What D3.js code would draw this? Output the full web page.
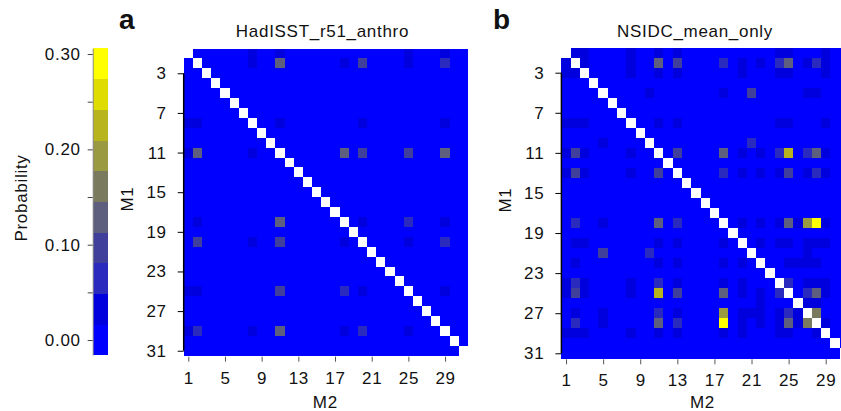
<!DOCTYPE html>
<html>
<head>
<meta charset="utf-8">
<script src="https://cdn.jsdelivr.net/npm/d3@7"></script>
<style>
  body { margin: 0; background: #fff; }
  svg { display: block; font-family: "Liberation Sans", Arial, Helvetica, sans-serif; letter-spacing: 0.7px; }
</style>
</head>
<body>
<div id="chart"></div>
<script>
// model indices (M1 = rows, M2 = columns), diagonal is NA
const modelIds = d3.range(1, 32);
const xTickVals = [1, 5, 9, 13, 17, 21, 25, 29];
const yTickVals = [3, 7, 11, 15, 19, 23, 27, 31];
const probTicks = [0, 0.05, 0.10, 0.15, 0.20, 0.25, 0.30];
const probExtent = [-0.0157, 0.306];
const bandColors = ["#0000ff", "#0000de", "#2a2abe", "#40409c", "#5e5e7e",
                    "#7a7a5e", "#9a9a40", "#b8b41e", "#dedc00", "#ffff00"];

// non-zero cells: [M1, M2, probability], everything else is 0
const hadisstCells = [
  [1, 8, 0.03], [1, 11, 0.03], [1, 25, 0.03], [1, 29, 0.03],
  [2, 8, 0.03], [2, 11, 0.13], [2, 18, 0.03], [2, 20, 0.10], [2, 25, 0.03], [2, 29, 0.06],
  [8, 1, 0.03], [8, 2, 0.03], [8, 11, 0.03], [8, 20, 0.03], [8, 29, 0.03],
  [11, 1, 0.03], [11, 2, 0.13], [11, 8, 0.03], [11, 18, 0.13], [11, 20, 0.10], [11, 25, 0.10], [11, 29, 0.13],
  [18, 2, 0.03], [18, 11, 0.13], [18, 20, 0.03], [18, 25, 0.06], [18, 29, 0.03],
  [20, 2, 0.10], [20, 8, 0.03], [20, 11, 0.10], [20, 18, 0.03], [20, 25, 0.03], [20, 29, 0.06],
  [25, 1, 0.03], [25, 2, 0.03], [25, 11, 0.10], [25, 18, 0.06], [25, 20, 0.03], [25, 29, 0.03],
  [29, 1, 0.03], [29, 2, 0.06], [29, 8, 0.03], [29, 11, 0.13], [29, 18, 0.03], [29, 20, 0.06], [29, 25, 0.03]
];

const nsidcCells = [
  [1, 2, 0.03], [1, 3, 0.03], [1, 8, 0.03], [1, 11, 0.03], [1, 13, 0.03], [1, 24, 0.03], [1, 25, 0.03], [1, 29, 0.03],
  [2, 1, 0.03], [2, 3, 0.03], [2, 8, 0.03], [2, 11, 0.13], [2, 13, 0.10], [2, 18, 0.06], [2, 20, 0.03], [2, 22, 0.03],
  [2, 24, 0.06], [2, 25, 0.13], [2, 27, 0.03], [2, 28, 0.06], [2, 29, 0.03],
  [3, 1, 0.03], [3, 2, 0.03], [3, 8, 0.03], [3, 11, 0.03], [3, 13, 0.03], [3, 20, 0.03], [3, 24, 0.03], [3, 25, 0.03], [3, 29, 0.03],
  [5, 10, 0.03], [5, 18, 0.03], [5, 21, 0.10], [5, 27, 0.03], [5, 28, 0.03],
  [8, 1, 0.03], [8, 2, 0.03], [8, 3, 0.03], [8, 11, 0.03], [8, 13, 0.03], [8, 24, 0.03], [8, 25, 0.03], [8, 29, 0.03],
  [10, 5, 0.03], [10, 21, 0.06],
  [11, 1, 0.03], [11, 2, 0.10], [11, 3, 0.03], [11, 8, 0.03], [11, 13, 0.10], [11, 18, 0.13], [11, 20, 0.03], [11, 22, 0.03],
  [11, 24, 0.06], [11, 25, 0.22], [11, 27, 0.06], [11, 28, 0.13], [11, 29, 0.03],
  [13, 1, 0.03], [13, 2, 0.10], [13, 3, 0.03], [13, 8, 0.03], [13, 11, 0.10], [13, 18, 0.06], [13, 20, 0.03], [13, 22, 0.03],
  [13, 24, 0.03], [13, 25, 0.10], [13, 27, 0.03], [13, 28, 0.06], [13, 29, 0.03],
  [18, 2, 0.06], [18, 5, 0.03], [18, 11, 0.13], [18, 13, 0.06], [18, 20, 0.03], [18, 22, 0.03], [18, 24, 0.03],
  [18, 25, 0.13], [18, 26, 0.03], [18, 27, 0.19], [18, 28, 0.29], [18, 29, 0.03],
  [20, 2, 0.03], [20, 3, 0.03], [20, 11, 0.03], [20, 13, 0.03], [20, 18, 0.03], [20, 22, 0.03], [20, 24, 0.03],
  [20, 25, 0.03], [20, 27, 0.03], [20, 28, 0.03], [20, 29, 0.03],
  [21, 5, 0.10], [21, 10, 0.06], [21, 27, 0.03],
  [22, 2, 0.03], [22, 11, 0.03], [22, 13, 0.03], [22, 18, 0.03], [22, 20, 0.03], [22, 25, 0.03], [22, 26, 0.03],
  [22, 27, 0.03], [22, 28, 0.03],
  [24, 1, 0.03], [24, 2, 0.06], [24, 3, 0.03], [24, 8, 0.03], [24, 11, 0.06], [24, 13, 0.03], [24, 18, 0.03],
  [24, 20, 0.03], [24, 25, 0.06], [24, 27, 0.03], [24, 28, 0.03], [24, 29, 0.03],
  [25, 1, 0.03], [25, 2, 0.10], [25, 3, 0.03], [25, 8, 0.03], [25, 11, 0.22], [25, 13, 0.10], [25, 18, 0.13],
  [25, 20, 0.03], [25, 22, 0.03], [25, 24, 0.06], [25, 27, 0.06], [25, 28, 0.13], [25, 29, 0.03],
  [26, 22, 0.03], [26, 27, 0.03], [26, 28, 0.03],
  [27, 2, 0.03], [27, 5, 0.03], [27, 11, 0.06], [27, 13, 0.03], [27, 18, 0.19], [27, 20, 0.03], [27, 21, 0.03],
  [27, 22, 0.03], [27, 24, 0.03], [27, 25, 0.06], [27, 26, 0.03], [27, 28, 0.16],
  [28, 2, 0.06], [28, 5, 0.03], [28, 11, 0.13], [28, 13, 0.06], [28, 18, 0.29], [28, 20, 0.03], [28, 22, 0.03],
  [28, 24, 0.03], [28, 25, 0.13], [28, 26, 0.03], [28, 27, 0.16], [28, 29, 0.03],
  [29, 1, 0.03], [29, 2, 0.03], [29, 3, 0.03], [29, 8, 0.03], [29, 11, 0.03], [29, 13, 0.03], [29, 18, 0.03],
  [29, 20, 0.03], [29, 24, 0.03], [29, 25, 0.03], [29, 28, 0.03]
];

const width = 841;
const height = 411;

const color = d3.scaleQuantize().domain(probExtent).range(bandColors);

const svg = d3.select("#chart").append("svg")
  .attr("width", width)
  .attr("height", height);

// ---- colour key ----
const keyX = 92.7, keyW = 15.6;
const yKey = d3.scaleLinear().domain(probExtent).range([355, 48.3]);
const step = (probExtent[1] - probExtent[0]) / bandColors.length;
const bands = bandColors.map((c, i) => [probExtent[0] + i * step, probExtent[0] + (i + 1) * step]);

svg.append("g")
  .selectAll("rect")
  .data(bands)
  .join("rect")
  .attr("x", keyX)
  .attr("width", keyW)
  .attr("y", d => yKey(d[1]))
  .attr("height", d => yKey(d[0]) - yKey(d[1]) + 0.3)
  .attr("fill", d => color((d[0] + d[1]) / 2))
  .attr("shape-rendering", "crispEdges");

const keyAxis = svg.append("g")
  .attr("transform", `translate(${keyX},0)`)
  .call(d3.axisLeft(yKey)
    .tickValues(probTicks)
    .tickSize(5)
    .tickSizeOuter(0)
    .tickPadding(7)
    .tickFormat(d => Math.round(d * 100) % 10 === 0 ? d3.format(".2f")(d) : ""));
keyAxis.select(".domain").attr("stroke", "#8a8a8a");
keyAxis.selectAll(".tick line").attr("stroke", "#444");
keyAxis.selectAll("text").attr("font-size", 17).attr("fill", "#111").attr("font-family", null);

svg.append("text")
  .attr("transform", "translate(27,198) rotate(-90)")
  .attr("text-anchor", "middle")
  .attr("font-size", 17)
  .attr("fill", "#111")
  .text("Probability");

// ---- heatmap panels ----
const panels = [
  { letter: "a", title: "HadISST_r51_anthro", cells: hadisstCells,
    left: 183.7, right: 468, top: 48.5, bottom: 355.7, titleX: 322.5, labelX: 325.3, letterX: 119 },
  { letter: "b", title: "NSIDC_mean_only", cells: nsidcCells,
    left: 561.4, right: 848.9, top: 47.65, bottom: 358.3, titleX: 695, labelX: 702.5, letterX: 493 }
];

panels.forEach(p => {
  const x = d3.scaleLinear().domain([0.5, 31.5]).range([p.left, p.right]);
  const y = d3.scaleLinear().domain([0.5, 31.5]).range([p.top, p.bottom]);

  const lookup = new Map(p.cells.map(d => [d[0] + "-" + d[1], d[2]]));
  const grid = [];
  modelIds.forEach(r => modelIds.forEach(c => {
    if (r !== c) grid.push({ r, c, v: lookup.get(r + "-" + c) || 0 });
  }));

  svg.append("g")
    .selectAll("rect")
    .data(grid)
    .join("rect")
    .attr("x", d => x(d.c - 0.5))
    .attr("y", d => y(d.r - 0.5))
    .attr("width", d => x(d.c + 0.5) - x(d.c - 0.5) + 0.4)
    .attr("height", d => y(d.r + 0.5) - y(d.r - 0.5) + 0.4)
    .attr("fill", d => color(d.v))
    .attr("shape-rendering", "crispEdges");

  // diagonal (NA) stays white
  svg.append("g")
    .selectAll("rect")
    .data(modelIds)
    .join("rect")
    .attr("x", d => x(d - 0.5))
    .attr("y", d => y(d - 0.5))
    .attr("width", d => x(d + 0.5) - x(d - 0.5))
    .attr("height", d => y(d + 0.5) - y(d - 0.5))
    .attr("fill", "#fff")
    .attr("shape-rendering", "crispEdges");

  const yAxis = svg.append("g")
    .attr("transform", `translate(${p.left},0)`)
    .call(d3.axisLeft(y).tickValues(yTickVals).tickSize(6).tickPadding(11));
  yAxis.select(".domain").remove();
  yAxis.selectAll(".tick line").attr("stroke", "#000");
  yAxis.selectAll("text").attr("font-size", 17).attr("fill", "#111").attr("font-family", null);
  yAxis.append("line")
    .attr("y1", y(yTickVals[0]))
    .attr("y2", y(yTickVals[yTickVals.length - 1]))
    .attr("stroke", "#000")
    .attr("stroke-width", 1.5);

  const xAxis = svg.append("g")
    .attr("transform", `translate(0,${p.bottom + 1})`)
    .call(d3.axisBottom(x).tickValues(xTickVals).tickSize(5).tickPadding(10));
  xAxis.select(".domain").remove();
  xAxis.selectAll(".tick line").attr("stroke", "#555");
  xAxis.selectAll("text").attr("font-size", 17).attr("fill", "#111").attr("font-family", null);

  svg.append("text")
    .attr("x", p.titleX)
    .attr("y", 37)
    .attr("text-anchor", "middle")
    .attr("font-size", 17)
    .attr("fill", "#111")
    .text(p.title);

  svg.append("text")
    .attr("x", p.letterX)
    .attr("y", 28.5)
    .attr("font-size", 28)
    .attr("font-weight", "bold")
    .attr("fill", "#111")
    .text(p.letter);

  svg.append("text")
    .attr("x", p.labelX)
    .attr("y", 407.5)
    .attr("text-anchor", "middle")
    .attr("font-size", 17)
    .attr("fill", "#111")
    .text("M2");

  svg.append("text")
    .attr("transform", `translate(${p.left - 50.4},${(p.top + p.bottom) / 2 - 3}) rotate(-90)`)
    .attr("text-anchor", "middle")
    .attr("font-size", 17)
    .attr("fill", "#111")
    .text("M1");
});
</script>
</body>
</html>
